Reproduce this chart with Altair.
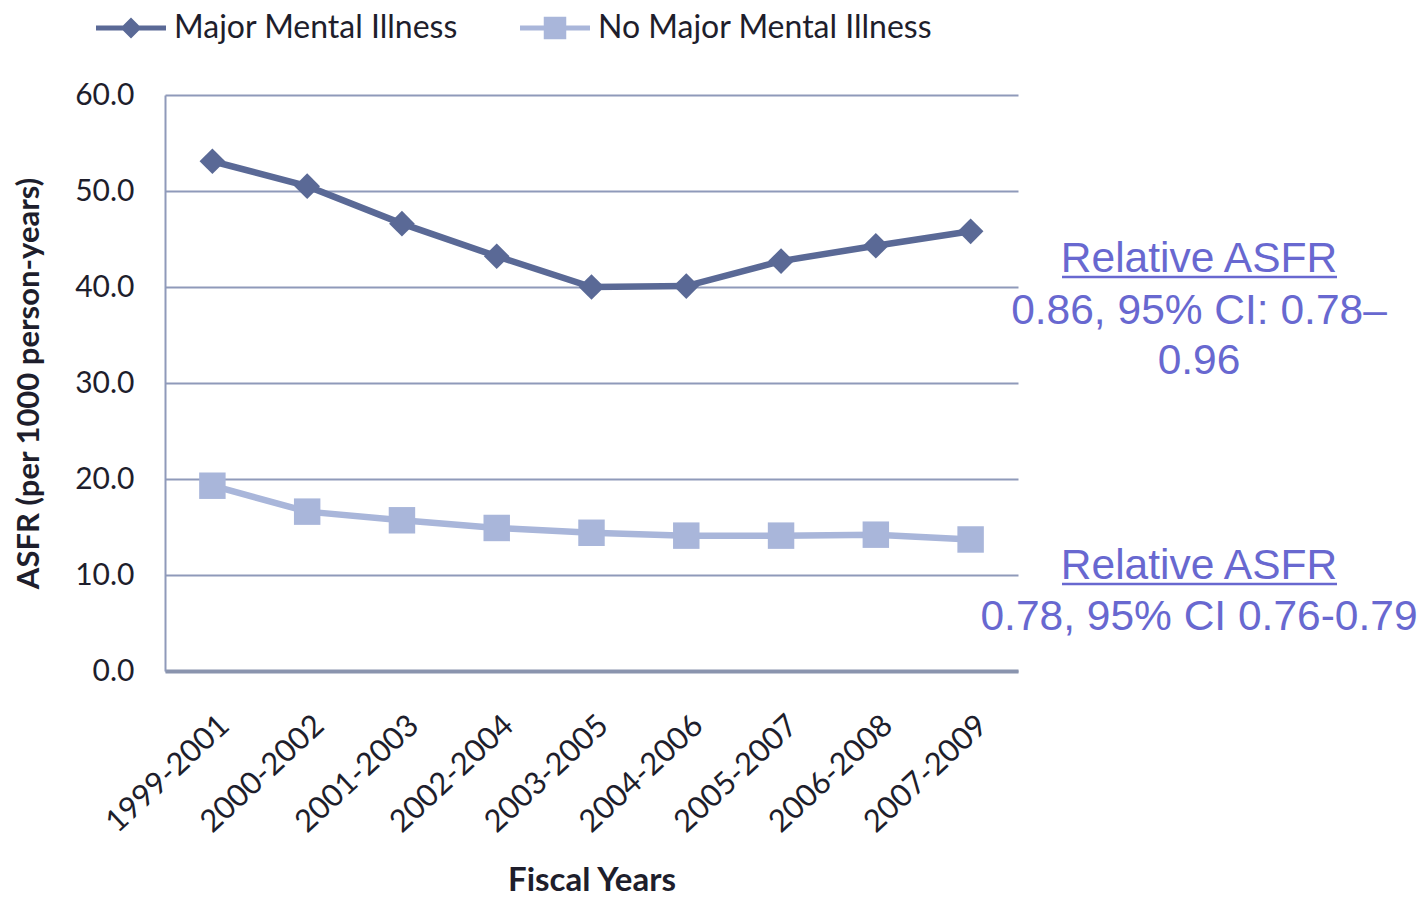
import altair as alt
import pandas as pd

periods = ["1999-2001", "2000-2002", "2001-2003", "2002-2004", "2003-2005",
           "2004-2006", "2005-2007", "2006-2008", "2007-2009"]
major = [53.1, 50.5, 46.6, 43.2, 40.0, 40.1, 42.7, 44.3, 45.8]
no_major = [19.3, 16.6, 15.7, 14.9, 14.4, 14.1, 14.1, 14.2, 13.7]
series_names = ["Major Mental Illness", "No Major Mental Illness"]
y_ticks = [0, 10, 20, 30, 40, 50, 60]

ann_title = "Relative ASFR"
ann_major = ["0.86, 95% CI: 0.78\u2013", "0.96"]
ann_no_major = ["0.78, 95% CI 0.76-0.79"]

rows = []
for p, a, b in zip(periods, major, no_major):
    rows.append({"period": p, "series": series_names[0], "value": a})
    rows.append({"period": p, "series": series_names[1], "value": b})
df = pd.DataFrame(rows)

LINE_COLORS = ["#5a6996", "#a9b6da"]
GRID = "#8f9aba"
ANN = "#6868d0"
TXT = "#1e1e2c"
FONT = "Lato"

# legend glyphs: a line stub with the series marker (unit = 15 px)
diamond_path = "M-2.333,-0.167H2.333V0.167H-2.333Z M0,-0.7L0.7,0L0,0.7L-0.7,0Z"
square_path = "M-2.333,-0.167H2.333V0.167H-2.333Z M-0.75,-0.75H0.75V0.75H-0.75Z"

color_scale = alt.Scale(domain=series_names, range=LINE_COLORS)

x_enc = alt.X("period:N", sort=periods, title="Fiscal Years",
              axis=alt.Axis(labelAngle=-43, labelAlign="right", labelBaseline="middle",
                            labelPadding=50, labelOffset=12, ticks=False,
                            domainColor="#8a94ae", domainWidth=4,
                            labelFont=FONT, labelFontSize=31, labelColor=TXT,
                            titleFont=FONT, titleFontSize=33, titleFontWeight="bold",
                            titleColor=TXT, titlePadding=27))
y_enc = alt.Y("value:Q", title="ASFR (per 1000 person-years)",
              scale=alt.Scale(domain=[0, 60], nice=False),
              axis=alt.Axis(values=y_ticks, format=".1f", ticks=False, grid=True,
                            gridColor=GRID, gridWidth=2, domainColor=GRID, domainWidth=2,
                            labelFont=FONT, labelFontSize=30, labelColor=TXT,
                            labelPadding=31,
                            titleFont=FONT, titleFontSize=31, titleFontWeight="bold",
                            titleColor=TXT, titlePadding=29))

base = alt.Chart(df)

lines = base.mark_line(strokeWidth=6.5).encode(
    x=x_enc, y=y_enc,
    color=alt.Color("series:N", scale=color_scale, legend=None),
)

points = base.mark_point(filled=True, opacity=1).encode(
    x=alt.X("period:N", sort=periods),
    y="value:Q",
    color=alt.Color("series:N", scale=color_scale, legend=None),
    shape=alt.Shape("series:N", scale=alt.Scale(domain=series_names, range=["diamond", "square"]),
                    legend=None),
    size=alt.Size("series:N", scale=alt.Scale(domain=series_names, range=[660, 700]),
                  legend=None),
)

legend_props = dict(orient="none", legendX=-50, legendY=-83,
                    direction="horizontal", columns=2,
                    symbolSize=900, labelOffset=27,
                    columnPadding=62, padding=0,
                    symbolStrokeWidth=0, symbolOpacity=1,
                    labelFont=FONT, labelFontSize=32,
                    labelColor=TXT, labelLimit=600)

legend_layer = base.transform_filter("false").mark_point(
    filled=True, opacity=1, size=900, strokeWidth=0
).encode(
    x=alt.X("period:N", sort=periods),
    y="value:Q",
    color=alt.Color("series:N", scale=color_scale, title=None,
                    legend=alt.Legend(**legend_props)),
    shape=alt.Shape("series:N", title=None,
                    scale=alt.Scale(domain=series_names, range=[diamond_path, square_path]),
                    legend=alt.Legend(**legend_props)),
)

def text_layer(txt, x, y):
    return alt.Chart(alt.Data(values=[{}])).mark_text(
        text=txt, font="Liberation Sans", fontSize=42.5, color=ANN,
        align="center", baseline="alphabetic"
    ).encode(x=alt.value(x), y=alt.value(y))

def underline_layer(x1, x2, y):
    return alt.Chart(alt.Data(values=[{}])).mark_rule(
        color=ANN, strokeWidth=2.5
    ).encode(x=alt.value(x1), x2=alt.value(x2), y=alt.value(y))

cx = 1034
annotations = [
    text_layer(ann_title, cx, 177),
    underline_layer(897, 1172, 182),
    text_layer(ann_major[0], cx, 229),
    text_layer(ann_major[1], cx, 279),
    text_layer(ann_title, cx, 484),
    underline_layer(897, 1172, 489),
    text_layer(ann_no_major[0], cx, 535),
]

chart = alt.layer(lines, points, legend_layer, *annotations).resolve_scale(
    shape="independent", color="independent", size="independent"
).properties(
    width=853, height=576,
    background="white",
    autosize=alt.AutoSizeParams(type="none"),
    padding={"left": 157, "top": 87, "right": 400, "bottom": 228},
).configure_view(stroke=None)

chart.save("out.html", embed_options={"renderer": "svg", "actions": False})
